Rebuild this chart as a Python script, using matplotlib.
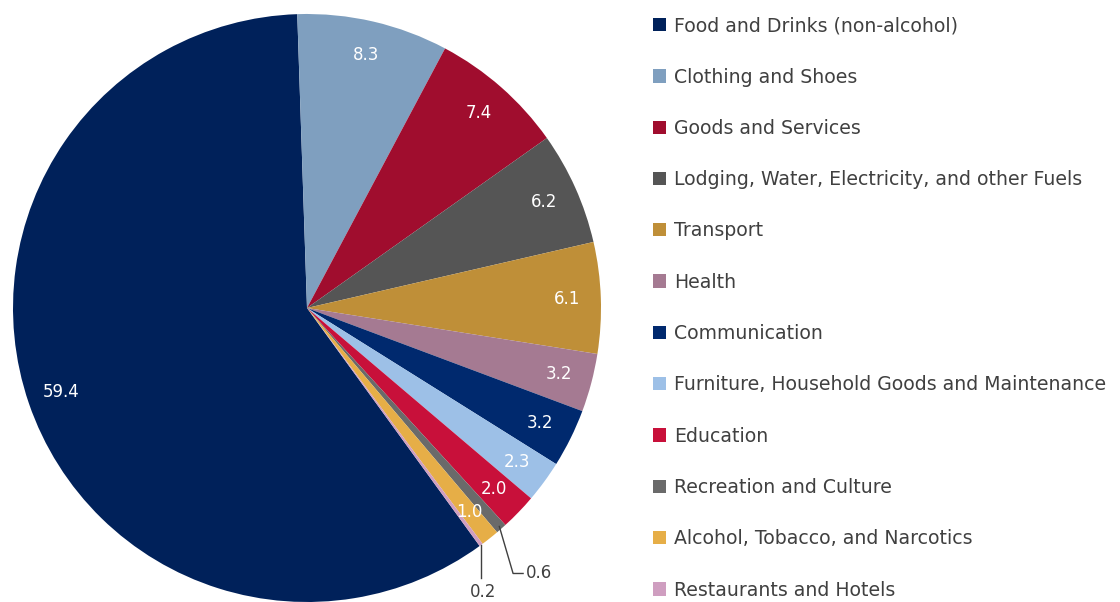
import matplotlib.pyplot as plt
import numpy as np

# Household expenditure shares (%)
categories = [
    "Food and Drinks (non-alcohol)",
    "Clothing and Shoes",
    "Goods and Services",
    "Lodging, Water, Electricity, and other Fuels",
    "Transport",
    "Health",
    "Communication",
    "Furniture, Household Goods and Maintenance",
    "Education",
    "Recreation and Culture",
    "Alcohol, Tobacco, and Narcotics",
    "Restaurants and Hotels",
]
shares = [59.4, 8.3, 7.4, 6.2, 6.1, 3.2, 3.2, 2.3, 2.0, 0.6, 1.0, 0.2]
colors = [
    "#00215a", "#7f9fbf", "#a00d2e", "#555555", "#bf8f38", "#a57a92",
    "#00296e", "#9dc0e7", "#c8103a", "#6a6a6a", "#e6ae47", "#cf9ec0",
]

plt.rcParams["font.family"] = ["DejaVu Sans"]

fig = plt.figure(figsize=(11.2, 6.02), dpi=100)
ax = fig.add_axes([(307 - 294) / 1120, (602 - 308 - 294) / 602, 588 / 1120, 588 / 602])

# Food slice ends just left of 12 o'clock, the rest run clockwise from there
total = sum(shares)
start = 91.9 + shares[0] / total * 360
wedges, _ = ax.pie(shares, colors=colors, startangle=start, counterclock=False,
                   radius=1.0, wedgeprops=dict(linewidth=0))
ax.set_xlim(-1, 1)
ax.set_ylim(-1, 1)
ax.set_aspect("equal")
ax.axis("off")

# values inside the slices, outside with leader lines for the tiny ones
for w, v, name in zip(wedges, shares, categories):
    mid = np.deg2rad((w.theta1 + w.theta2) / 2)
    if v >= 1.0:
        ax.text(0.885 * np.cos(mid), 0.885 * np.sin(mid), f"{v:.1f}",
                ha="center", va="center", color="white", fontsize=12)
    elif name == "Recreation and Culture":
        x0, y0 = np.cos(mid) * 0.99, np.sin(mid) * 0.99
        ax.plot([x0, 0.701, 0.735], [y0, -0.903, -0.903], color="#404040", lw=1,
                clip_on=False)
        ax.text(0.745, -0.903, f"{v:.1f}", ha="left", va="center",
                color="#404040", fontsize=12, clip_on=False)
    else:
        x0, y0 = np.cos(mid), np.sin(mid)
        ax.plot([x0, x0], [y0, -0.92], color="#404040", lw=1, clip_on=False)
        ax.text(x0 + 0.005, -0.965, f"{v:.1f}", ha="center", va="center",
                color="#404040", fontsize=12, clip_on=False)

fig.legend(wedges, categories, loc="upper left",
           bbox_to_anchor=(640 / 1120, 1.0 - 3 / 602),
           frameon=False, fontsize=13.6, handlelength=0.7, handleheight=0.7,
           handletextpad=0.4, labelspacing=1.71, labelcolor="#404040",
           borderaxespad=0.3)

fig.savefig("out.png", dpi=100)
